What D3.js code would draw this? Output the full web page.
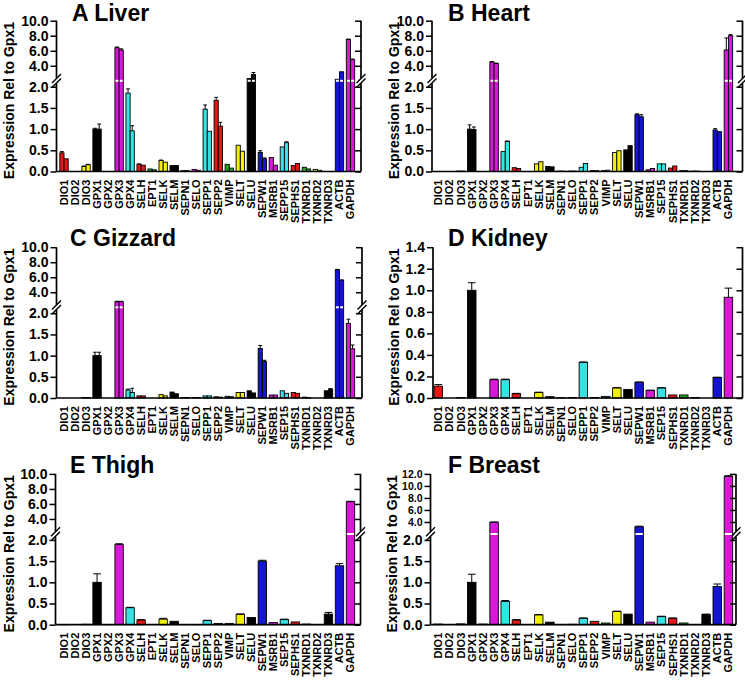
<!DOCTYPE html>
<html><head><meta charset="utf-8">
<script src="https://cdn.jsdelivr.net/npm/d3@7"></script>
<style>
body{margin:0;background:#fff}
svg{display:block}
text{font-family:"Liberation Sans",Arial,sans-serif;font-weight:bold;fill:#000}
</style></head><body>
<svg id="chart" width="745" height="683"></svg>
<script>
// ---------------- DATA ----------------
const categories = ["DIO1","DIO2","DIO3","GPX1","GPX2","GPX3","GPX4","SELH","EPT1","SELK","SELM","SEPN1","SELO","SEPP1","SEPP2","VIMP","SELT","SELU","SEPW1","MSRB1","SEP15","SEPHS1","TXNRD1","TXNRD2","TXNRD3","ACTB","GAPDH"];
const categoriesLiver = ["DIO1","DIO2","DIO3","GPX1","GPX2","GPX3","GPX4","SELH","EPT1","SELK","SELM","SEPN1","SELO","SEPP1","SEPP2","VIMP","SELT","SELU","SEPW1","MSRB1","SEPP15","SEPHS1","TXNRD1","TXNRD2","TXNRD3","ACTB","GAPDH"];

const liver1    = [0.44,0,0.12,1.0,0,6.4,1.85,0.17,0.06,0.26,0.14,0.02,0.05,1.47,1.68,0.17,0.62,2.3,0.45,0.33,0.58,0.14,0.10,0.05,0,2.2,7.5];
const liver2    = [0.30,0,0.16,1.0,0,6.1,0.96,0.15,0.04,0.22,0.14,0.02,0.03,0.95,1.07,0.08,0.48,2.85,0.30,0.15,0.68,0.19,0.06,0.03,0,3.2,4.8];
const liverErr1 = [0.03,0,0.01,0.02,0,0.1,0.1,0.01,0,0.01,0,0,0,0.1,0.07,0,0,0,0.04,0,0,0,0,0,0,0,0.05];
const liverErr2 = [0,0,0.01,0.12,0,0.15,0.12,0,0,0,0,0,0,0,0.09,0,0,0.25,0.02,0,0.02,0,0,0,0,0,0.1];

const heart1    = [0,0,0.01,1.0,0,4.5,0.47,0.09,0,0.18,0.12,0.01,0.01,0.10,0.02,0.02,0.45,0.51,1.34,0.04,0.18,0.08,0.02,0.01,0,0.98,6.1];
const heart2    = [0,0,0.01,0.99,0,4.3,0.71,0.07,0,0.23,0.11,0.01,0.01,0.19,0.02,0.03,0.49,0.61,1.29,0.07,0.18,0.13,0.02,0.01,0,0.94,8.0];
const heartErr1 = [0,0,0,0.1,0,0.05,0,0,0,0,0,0,0,0,0,0,0,0,0.02,0,0,0,0,0,0,0.03,1.6];
const heartErr2 = [0,0,0,0.06,0,0.05,0.01,0,0,0,0,0,0,0,0,0,0,0,0.05,0,0,0,0,0,0,0,0.15];

const gizzard1    = [0,0,0.01,1.0,0,2.75,0.19,0.05,0,0.08,0.14,0.01,0.01,0.05,0.03,0.04,0.13,0.17,1.17,0.07,0.17,0.13,0.02,0,0.17,7.0,1.76];
const gizzard2    = [0,0,0.01,1.0,0,2.75,0.13,0.05,0,0.05,0.10,0.01,0.01,0.05,0.02,0.03,0.13,0.12,0.86,0.07,0.11,0.11,0.01,0,0.21,5.6,1.16];
const gizzardErr1 = [0,0,0,0.08,0,0.05,0.02,0,0,0,0,0,0,0,0,0,0,0,0.07,0,0,0,0,0,0,0.05,0.1];
const gizzardErr2 = [0,0,0,0.08,0,0.05,0.1,0,0,0,0,0,0,0,0,0,0,0,0.03,0,0,0,0,0,0.01,0.05,0.09];

const kidney    = [0.11,0,0.003,1.0,0,0.17,0.17,0.04,0,0.05,0.012,0.002,0.003,0.33,0.005,0.015,0.093,0.08,0.146,0.07,0.093,0.028,0.028,0.005,0,0.19,0.935];
const kidneyErr = [0.015,0,0,0.07,0,0.005,0.005,0.003,0,0.004,0,0,0,0.005,0,0,0.003,0,0.003,0.003,0.003,0,0,0,0,0.003,0.085];

const thigh    = [0.005,0,0.01,1.0,0.003,1.89,0.40,0.11,0,0.13,0.08,0.005,0.005,0.095,0.03,0.03,0.245,0.17,1.5,0.05,0.12,0.065,0.015,0.005,0.25,1.39,6.3];
const thighErr = [0,0,0,0.2,0,0.02,0.01,0.01,0,0.02,0,0,0,0.01,0,0,0.01,0,0.02,0,0.01,0,0,0,0.04,0.05,0.05];

const breast    = [0.015,0,0.02,1.0,0.015,3.95,0.55,0.11,0,0.23,0.06,0.005,0.01,0.15,0.08,0.04,0.31,0.25,3.2,0.06,0.19,0.15,0.04,0.005,0.24,0.9,11.6];
const breastErr = [0,0,0,0.19,0,0.05,0.02,0.01,0,0.01,0,0,0,0.01,0,0,0.01,0,0.1,0,0.01,0.01,0,0,0.01,0.06,0.1];

const lowerTicks = [0,0.5,1.0,1.5,2.0];
const upperTicks = [4,6,8,10];
const upperTicksBreast = [4,6,8,10,12];
const kidneyTicks = [0,0.2,0.4,0.6,0.8,1.0,1.2,1.4];
const yTitle = "Expression Rel to Gpx1";

// ---------------- STYLE / LAYOUT ----------------
const colorCycle = ["#e41616","#1fa81f","#f2f200","#000000","#1414d2","#d81ad8","#36e2e2"];
const LOW_MAX = 2.14, LOW_H = 90.7, FULL_H = 150.8;

const panels = [
  {title:"A Liver",  labels:categoriesLiver, series:[liver1,liver2],     errs:[liverErr1,liverErr2],     upMax:10, upTicks:upperTicks,
   left:56.5, right:361, bottom:171.5, bandL:58.5, bandR:356, titleX:72, titleY:20.8, labX:13.5},
  {title:"B Heart",  labels:categories,      series:[heart1,heart2],     errs:[heartErr1,heartErr2],     upMax:10, upTicks:upperTicks,
   left:432, right:742.5, bottom:171.5, bandL:432.7, bandR:734, titleX:448, titleY:20.8, labX:398.5},
  {title:"C Gizzard",labels:categories,      series:[gizzard1,gizzard2], errs:[gizzardErr1,gizzardErr2], upMax:10, upTicks:upperTicks,
   left:56.5, right:362, bottom:398, bandL:58.5, bandR:356, titleX:70, titleY:245.5, labX:13.5},
  {title:"D Kidney", labels:categories,      series:[kidney],            errs:[kidneyErr],               linear:true, yMax:1.4, ticks:kidneyTicks,
   left:433, right:742.5, bottom:398, bandL:432.7, bandR:734, titleX:448, titleY:245.5, labX:398.5},
  {title:"E Thigh",  labels:categories,      series:[thigh],             errs:[thighErr],                upMax:10, upTicks:upperTicks,
   left:55.5, right:360.5, bottom:624.7, bandL:58.5, bandR:356, titleX:70, titleY:472.5, labX:13.5},
  {title:"F Breast", labels:categories,      series:[breast],            errs:[breastErr],               upMax:12, upTicks:upperTicksBreast, upFont:10.5,
   left:430.5, right:736, bottom:624.7, bandL:432.7, bandR:734, titleX:448, titleY:472.5, labX:397}
];

const svg = d3.select("#chart");
const fmt = d3.format(".1f");

panels.forEach(p => {
  const g = svg.append("g");
  const top = p.bottom - FULL_H;
  const x = d3.scaleBand().domain(d3.range(categories.length)).range([p.bandL, p.bandR]).padding(0);

  let y, yLow, yUp, brk;
  if (p.linear) {
    yLow = d3.scaleLinear().domain([0, p.yMax]).range([p.bottom, top]);
    y = v => yLow(v);
  } else {
    brk = p.bottom - LOW_H;
    yLow = d3.scaleLinear().domain([0, LOW_MAX]).range([p.bottom, brk]);
    yUp  = d3.scaleLinear().domain([2, p.upMax]).range([brk, top]);
    y = v => v > LOW_MAX ? yUp(v) : yLow(v);
  }

  // bars
  const n = p.series.length;
  const groupW = x.bandwidth() * 0.76;
  const bw = groupW / n;
  const color = i => colorCycle[i % colorCycle.length];
  p.series.forEach((vals, s) => {
    const errs = p.errs[s];
    const bx = i => x(i) + (x.bandwidth() - groupW) / 2 + s * bw;
    const pts = vals.map((v, i) => ({v, i, e: errs[i]})).filter(d => d.v > 0);
    g.append("g").selectAll("rect").data(pts).join("rect")
      .attr("x", d => bx(d.i))
      .attr("y", d => y(d.v))
      .attr("width", bw)
      .attr("height", d => p.bottom - y(d.v))
      .attr("fill", d => color(d.i))
      .attr("stroke", "#000").attr("stroke-width", 0.9);
    // error bars
    const eg = g.append("g").attr("stroke", "#000").attr("stroke-width", 1);
    pts.filter(d => d.e > 0).forEach(d => {
      const cx = bx(d.i) + bw / 2;
      const y1 = y(d.v), y2 = y(d.v + d.e);
      eg.append("line").attr("x1", cx).attr("x2", cx).attr("y1", y1).attr("y2", y2);
      eg.append("line").attr("x1", cx - bw * 0.45).attr("x2", cx + bw * 0.45).attr("y1", y2).attr("y2", y2);
    });
    // white break across tall bars
    if (!p.linear) {
      g.append("g").selectAll("rect").data(pts.filter(d => d.v > LOW_MAX)).join("rect")
        .attr("x", d => bx(d.i) + 0.6)
        .attr("y", brk - 1)
        .attr("width", bw - 1.2)
        .attr("height", 2)
        .attr("fill", "#fff");
    }
  });

  // axis ticks
  const styleAxis = fs => sel => {
    sel.select(".domain").remove();
    sel.selectAll(".tick line").attr("stroke", "#000").attr("stroke-width", 1.5);
    sel.selectAll(".tick text").attr("font-size", fs).attr("font-family", "Liberation Sans, Arial, sans-serif").attr("font-weight", "bold");
  };
  const leftScales = p.linear ? [[yLow, p.ticks, 14]] : [[yLow, lowerTicks, 14], [yUp, p.upTicks, p.upFont || 14]];
  leftScales.forEach(([sc, tv, fs]) => {
    g.append("g").attr("transform", `translate(${p.left},0)`)
      .call(d3.axisLeft(sc).tickValues(tv).tickFormat(fmt).tickSize(6).tickPadding(2))
      .call(styleAxis(fs));
    g.append("g").attr("transform", `translate(${p.right},0)`)
      .call(d3.axisRight(sc).tickValues(tv).tickFormat("").tickSize(-6))
      .call(styleAxis(fs));
  });

  // axis lines
  const ax = g.append("g").attr("stroke", "#000").attr("stroke-width", 1.7).attr("fill", "none");
  [p.left, p.right].forEach(xx => {
    if (p.linear) {
      ax.append("line").attr("x1", xx).attr("x2", xx).attr("y1", p.bottom).attr("y2", top);
    } else {
      ax.append("line").attr("x1", xx).attr("x2", xx).attr("y1", p.bottom).attr("y2", brk + 2.5);
      ax.append("line").attr("x1", xx).attr("x2", xx).attr("y1", brk - 2.5).attr("y2", top);
      [-2.2, 2.2].forEach(o => {
        ax.append("line").attr("stroke-width", 1.4)
          .attr("x1", xx - 4.5).attr("y1", brk + o + 4.5)
          .attr("x2", xx + 4.5).attr("y2", brk + o - 4.5);
      });
    }
  });
  ax.append("line").attr("x1", p.left).attr("x2", p.right).attr("y1", p.bottom).attr("y2", p.bottom);

  // x axis labels
  const xa = g.append("g").attr("transform", `translate(0,${p.bottom})`)
    .call(d3.axisBottom(x).tickSize(0).tickFormat(i => p.labels[i]));
  xa.select(".domain").remove();
  xa.selectAll(".tick text")
    .attr("transform", "rotate(-90)")
    .attr("x", -8).attr("y", 0).attr("dy", "0.36em")
    .attr("text-anchor", "end")
    .attr("font-size", 11).attr("font-family", "Liberation Sans, Arial, sans-serif").attr("font-weight", "bold");

  // title
  g.append("text").attr("x", p.titleX).attr("y", p.titleY)
    .attr("font-size", 23).text(p.title);

  // y title
  g.append("text")
    .attr("transform", `translate(${p.labX},${(p.bottom + top) / 2 + 4.5}) rotate(-90)`)
    .attr("text-anchor", "middle").attr("font-size", 14).text(yTitle);
});
</script>
</body></html>
